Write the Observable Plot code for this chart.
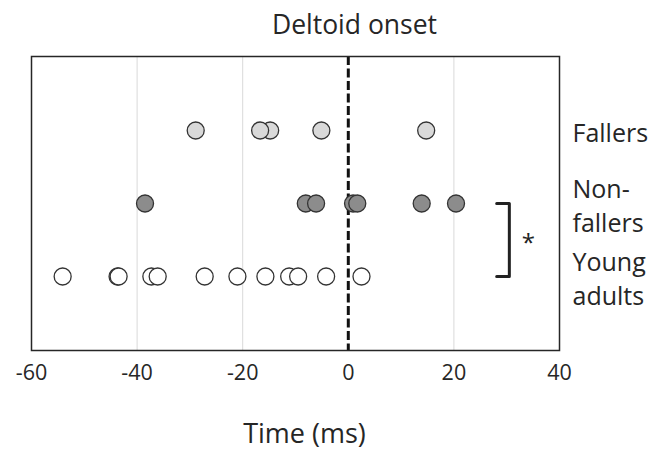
<!DOCTYPE html>
<html>
<head>
<meta charset="utf-8">
<script src="https://cdn.jsdelivr.net/npm/d3@7"></script>
<script src="https://cdn.jsdelivr.net/npm/@observablehq/plot@0.6"></script>
<style>
  html, body { margin: 0; padding: 0; background: #fff; }
  #chart svg { display: block; }
</style>
</head>
<body>
<div id="chart"></div>
<script>
const titleText = "Deltoid onset";
const xLabel = "Time (ms)";
const groups = ["Fallers", "Non-fallers", "Young adults"];
const groupLabels = ["Fallers", "Non-\nfallers", "Young\nadults"];
const groupFills = ["#d9d9d9", "#8c8c8c", "#ffffff"];
const xTicks = [-60, -40, -20, 0, 20, 40];
const gridTicks = [-40, -20, 20];
const onset = [0];

const fallers = [-28.9, -14.8, -16.7, -5.1, 14.75];
const nonFallers = [-38.5, -8.05, -6.1, 0.9, 1.7, 13.9, 20.4];
const youngAdults = [-54.1, -43.7, -43.5, -37.3, -36.1, -27.2, -21.0, -15.7, -11.2, -9.5, -4.2, 2.5];

// significance bracket between Non-fallers and Young adults
const bracketX = [28.1, 30.5];
const bracketGroups = ["Non-fallers", "Young adults"];
const sigText = "*";

const points = [
  ...fallers.map(v => ({group: groups[0], value: v})),
  ...nonFallers.map(v => ({group: groups[1], value: v})),
  ...youngAdults.map(v => ({group: groups[2], value: v}))
];
const bracket = [
  {x: bracketX[0], y: bracketGroups[0]},
  {x: bracketX[1], y: bracketGroups[0]},
  {x: bracketX[1], y: bracketGroups[1]},
  {x: bracketX[0], y: bracketGroups[1]}
];
const labelRows = groups.map((g, i) => ({group: g, label: groupLabels[i]}));
const sigRows = [{text: sigText, x: bracketX[1], y: bracketGroups[0]}];

const font = "'Open Sans', sans-serif";

const chart = Plot.plot({
  width: 654,
  height: 454,
  marginLeft: 31,
  marginRight: 95,
  marginTop: 56,
  marginBottom: 104,
  style: {fontFamily: font, color: "#262626", background: "#fff"},
  x: {domain: [-60, 40], label: null},
  y: {type: "point", domain: groups, padding: 1, axis: null},
  color: {domain: groups, range: groupFills},
  marks: [
    Plot.ruleX(gridTicks, {stroke: "#d9d9d9", strokeWidth: 1}),
    Plot.ruleX(onset, {stroke: "#111", strokeWidth: 3, strokeDasharray: "9,3.5"}),
    Plot.dot(points, {x: "value", y: "group", r: 8.5, fill: "group", stroke: "#333", strokeWidth: 1.3}),
    Plot.line(bracket, {x: "x", y: "y", stroke: "#222", strokeWidth: 3}),
    Plot.text(sigRows, {text: "text", x: "x", y: "y", dx: 19, dy: 40, fontSize: 24, fill: "#222"}),
    Plot.text(labelRows, {text: "label", y: "group", frameAnchor: "right", textAnchor: "start", dx: 13, dy: 1, lineHeight: 1.36, fontSize: 25, fill: "#262626"}),
    Plot.text([titleText], {text: d => d, frameAnchor: "top", dx: 59, dy: -23, lineAnchor: "bottom", fontSize: 26.5, fill: "#262626"}),
    Plot.text([xLabel], {text: d => d, frameAnchor: "bottom", dx: 9, dy: 92, fontSize: 27, fill: "#262626"}),
    Plot.frame({stroke: "#262626", strokeWidth: 1.5}),
    Plot.axisX({ticks: xTicks, tickSize: 0, tickPadding: 14, fontSize: 21.5, label: null, tickFormat: d => String(d), fill: "#262626"})
  ]
});
document.getElementById("chart").appendChild(chart);
</script>
</body>
</html>
